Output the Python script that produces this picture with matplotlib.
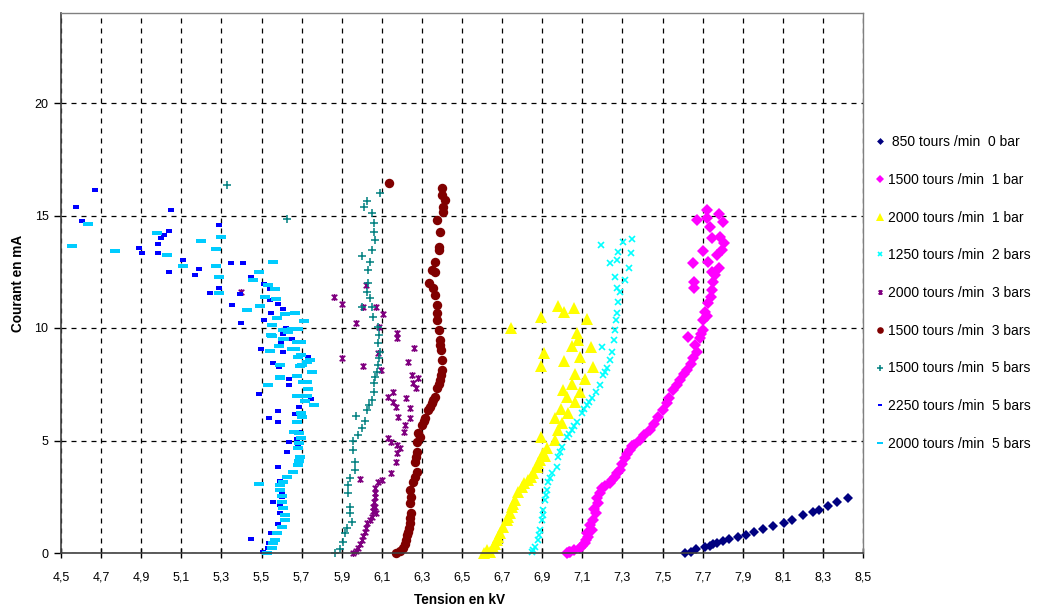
import numpy as np
import matplotlib
matplotlib.use("Agg")
import matplotlib.pyplot as plt
from matplotlib.path import Path

plt.rcParams['font.family'] = ['Liberation Sans', 'DejaVu Sans']

# ---------------- data ----------------
v_850_0 = [7.61, 7.64, 7.667, 7.71, 7.737, 7.753, 7.77, 7.80, 7.833, 7.875, 7.917, 7.956,
           8.003, 8.053, 8.106, 8.146, 8.202, 8.252, 8.282, 8.327, 8.372, 8.424]
i_850_0 = [0.0, 0.04, 0.16, 0.25, 0.33, 0.40, 0.46, 0.55, 0.61, 0.73, 0.81, 0.93,
           1.07, 1.21, 1.32, 1.48, 1.67, 1.84, 1.90, 2.09, 2.27, 2.46]

v_1500_1 = [7.022, 7.039, 7.089, 7.113, 7.13, 7.147, 7.155, 7.168, 7.18, 7.188, 7.197, 7.238,
            7.263, 7.288, 7.313, 7.338, 7.388, 7.438, 7.479, 7.521, 7.554, 7.587, 7.62, 7.654,
            7.67, 7.662, 7.629, 7.687, 7.704, 7.704, 7.712, 7.729, 7.74, 7.745, 7.659, 7.659,
            7.754, 7.762, 7.783, 7.745, 7.654, 7.729, 7.77, 7.795, 7.70, 7.807, 7.787, 7.745,
            7.737, 7.72, 7.67, 7.783, 7.803, 7.72,
            7.06, 7.10, 7.12, 7.14, 7.16, 7.25, 7.30, 7.36, 7.41, 7.50, 7.57, 7.64,
            7.035, 7.122, 7.175, 7.215, 7.275, 7.325, 7.35, 7.46, 7.53, 7.605, 7.69, 7.72]
i_1500_1 = [0.01, 0.06, 0.21, 0.43, 0.73, 1.02, 1.47, 1.76, 2.21, 2.65, 2.87, 3.10,
            3.39, 3.69, 4.21, 4.58, 5.02, 5.47, 6.06, 6.65, 7.24, 7.69, 8.13, 8.65,
            8.95, 9.24, 9.62, 9.54, 9.91, 10.36, 10.72, 11.10, 11.39, 11.69, 11.76, 12.06,
            12.06, 12.36, 12.65, 12.51, 12.87, 12.95, 13.24, 13.47, 13.44, 13.76, 14.06, 13.99,
            14.50, 14.87, 14.80, 15.07, 14.73, 15.24,
            0.12, 0.30, 0.60, 1.25, 1.95, 3.25, 3.95, 4.80, 5.25, 6.35, 7.45, 8.40,
            0.03, 0.88, 2.45, 3.00, 3.55, 4.40, 4.75, 5.75, 6.90, 7.95, 9.75, 10.55]

v_2000_1 = [6.61, 6.64, 6.656, 6.673, 6.69, 6.706, 6.723, 6.739, 6.748, 6.764, 6.781, 6.797,
            6.831, 6.856, 6.873, 6.889, 6.906, 6.923, 6.893, 6.964, 6.98, 6.997, 6.964, 7.03,
            6.992, 7.064, 7.022, 7.005, 7.089, 7.047, 7.114, 7.064, 7.155, 6.893, 7.009, 7.089,
            6.909, 7.142, 7.08, 7.05, 7.072, 6.743, 6.893, 7.122, 7.01, 7.06, 6.98,
            6.625, 6.665, 6.68, 6.73, 6.755, 6.81, 6.845, 6.88, 6.915]
i_2000_1 = [0.0, 0.06, 0.28, 0.58, 0.87, 1.17, 1.47, 1.76, 2.06, 2.36, 2.73, 2.95,
            3.24, 3.54, 3.84, 4.13, 4.43, 4.65, 5.17, 5.02, 5.47, 5.76, 5.99, 6.21,
            6.39, 6.72, 6.92, 7.24, 7.17, 7.50, 7.73, 7.96, 8.25, 8.32, 8.55, 8.73,
            8.87, 9.14, 9.47, 9.20, 9.76, 10.02, 10.50, 10.40, 10.72, 10.90, 10.98,
            0.15, 0.42, 0.72, 1.62, 2.20, 3.10, 3.40, 3.98, 4.30]

v_1250_2 = [6.847, 6.864, 6.881, 6.889, 6.898, 6.906, 6.914, 6.923, 6.931, 6.947, 6.972, 6.98,
            6.997, 7.022, 7.047, 7.072, 7.097, 7.122, 7.147, 7.168, 7.188, 7.205, 7.222, 7.238,
            7.247, 7.197, 7.258, 7.263, 7.268, 7.272, 7.28, 7.288, 7.272, 7.313, 7.263, 7.272,
            7.238, 7.334, 7.341, 7.28, 7.192, 7.301, 7.349,
            6.855, 6.886, 6.902, 6.918, 6.94, 6.99, 7.035, 7.06, 7.11, 7.135, 7.215]
i_1250_2 = [0.06, 0.28, 0.58, 1.02, 1.47, 1.91, 2.36, 2.80, 3.17, 3.54, 3.84, 4.28,
            4.72, 5.17, 5.47, 5.84, 6.21, 6.58, 6.87, 7.17, 7.47, 7.91, 8.21, 8.58,
            8.95, 9.17, 9.47, 9.91, 10.36, 10.65, 11.17, 11.61, 11.76, 12.13, 12.28, 13.02,
            12.87, 12.65, 13.35, 13.39, 13.69, 13.84, 13.94,
            0.15, 0.80, 1.70, 2.60, 3.35, 4.50, 5.30, 5.65, 6.40, 6.72, 8.05]

v_2000_3 = [5.958, 5.983, 6.0, 6.016, 6.028, 6.05, 6.058, 6.066, 6.066, 6.083, 6.10, 5.991,
            6.144, 6.171, 6.174, 6.174, 6.144, 6.191, 6.132, 6.211, 6.216, 6.24, 6.182, 6.24,
            6.171, 6.157, 6.221, 6.132, 6.157, 6.257, 6.271, 6.279, 6.096, 6.249, 6.008, 6.232,
            5.90, 6.083, 6.26, 6.177, 6.177, 6.088, 5.971, 6.108, 6.071, 6.008, 5.90, 6.021,
            5.862, 5.399,
            5.97, 5.99, 6.008, 6.022, 6.04, 6.055, 6.062, 6.066, 6.066, 6.07]
i_2000_3 = [0.01, 0.21, 0.58, 0.95, 1.32, 1.62, 2.06, 2.50, 2.87, 3.17, 3.24, 3.28,
            3.54, 4.06, 4.43, 4.80, 4.95, 4.65, 5.10, 5.39, 5.69, 5.99, 6.06, 6.43,
            6.50, 6.72, 6.87, 6.95, 7.17, 7.54, 7.32, 7.76, 8.13, 7.91, 8.31, 8.50,
            8.65, 8.90, 9.10, 9.54, 9.76, 10.03, 10.21, 10.62, 10.92, 10.95, 11.05, 11.91,
            11.36, 11.61,
            0.10, 0.40, 0.75, 1.12, 1.48, 1.85, 2.28, 2.68, 2.05, 1.80]

v_1500_3 = [6.171, 6.207, 6.221, 6.232, 6.24, 6.244, 6.24, 6.24, 6.257, 6.274, 6.265, 6.274,
            6.274, 6.282, 6.299, 6.315, 6.332, 6.349, 6.365, 6.377, 6.39, 6.399, 6.399, 6.394,
            6.39, 6.385, 6.377, 6.377, 6.377, 6.365, 6.357, 6.337, 6.365, 6.349, 6.365, 6.387,
            6.387, 6.39, 6.377, 6.404, 6.404, 6.415, 6.399, 6.399, 6.138,
            6.19, 6.215, 6.228, 6.238, 6.242, 6.248, 6.268, 6.27, 6.29, 6.308, 6.34, 6.357,
            6.384, 6.397, 6.392]
i_1500_3 = [0.01, 0.21, 0.58, 0.95, 1.32, 1.76, 2.21, 2.80, 3.17, 3.61, 4.06, 4.50,
            4.95, 5.32, 5.69, 5.99, 6.36, 6.65, 6.95, 7.32, 7.69, 8.13, 8.58, 9.02,
            9.47, 9.91, 10.36, 10.65, 11.02, 11.47, 11.76, 11.99, 12.50, 12.58, 12.95, 13.47,
            13.59, 14.28, 14.80, 15.17, 15.39, 15.69, 15.91, 16.21, 16.43,
            0.10, 0.40, 0.78, 1.12, 1.55, 2.50, 3.40, 4.28, 5.15, 5.85, 6.50, 6.80,
            7.50, 7.90, 9.25]

v_1500_5 = [5.867, 5.892, 5.905, 5.917, 5.925, 5.95, 5.941, 5.941, 5.933, 5.933, 5.941, 5.966,
            5.966, 5.958, 5.958, 5.983, 6.0, 5.971, 6.016, 6.025, 6.038, 6.05, 6.061, 6.061,
            6.066, 6.075, 6.083, 6.088, 6.091, 6.083, 6.088, 6.083, 6.058, 6.05, 6.0, 6.041,
            6.025, 6.033, 6.033, 6.041, 6.0, 6.05, 6.066, 6.061, 6.061, 6.05, 6.011, 6.028,
            6.091, 5.33, 5.626]
i_1500_5 = [0.0, 0.16, 0.50, 0.87, 1.10, 1.39, 1.76, 2.06, 2.65, 3.02, 3.32, 3.69,
            4.06, 4.58, 4.99, 5.24, 5.54, 6.09, 5.88, 6.36, 6.58, 6.80, 7.17, 7.54,
            7.84, 8.06, 8.36, 8.65, 8.95, 9.32, 9.69, 10.06, 10.50, 10.95, 10.92, 11.32,
            11.61, 11.99, 12.58, 12.95, 13.20, 13.47, 13.91, 14.28, 14.65, 15.10, 15.39, 15.66,
            15.99, 16.34, 14.86]

v_2250_5 = [4.668, 4.575, 4.605, 5.049, 5.288, 5.039, 4.997, 5.015, 4.985, 4.887, 4.906, 4.985,
            5.11, 5.037, 5.188, 5.17, 5.349, 5.408, 5.448, 5.287, 5.245, 5.393, 5.354, 5.396,
            5.514, 5.542, 5.541, 5.584, 5.609, 5.546, 5.511, 5.621, 5.609, 5.651, 5.597, 5.499,
            5.609, 5.557, 5.587, 5.73, 5.639, 5.639, 5.489, 5.73, 5.747, 5.687, 5.667, 5.581,
            5.539, 5.581, 5.689, 5.675, 5.639, 5.684, 5.626, 5.584, 5.592, 5.556, 5.592, 5.592,
            5.584, 5.546, 5.448, 5.539, 5.531, 5.509, 5.60, 5.60]
i_2250_5 = [16.12, 15.39, 14.77, 15.24, 14.56, 14.31, 14.01, 14.14, 13.73, 13.54, 13.32, 13.32,
            13.02, 12.51, 12.61, 12.36, 12.87, 12.87, 12.27, 11.79, 11.54, 11.50, 11.02, 10.21,
            11.97, 11.73, 11.23, 11.08, 10.86, 10.67, 10.36, 9.98, 9.73, 9.52, 9.32, 9.08,
            8.92, 8.44, 8.27, 8.70, 7.72, 7.47, 7.07, 7.30, 6.84, 6.50, 6.18, 6.32,
            5.99, 5.81, 5.39, 5.05, 4.92, 4.72, 4.47, 3.81, 3.20, 2.28, 2.13, 1.76,
            1.29, 0.90, 0.62, 0.43, 0.21, 0.06, 2.68, 2.50]

v_2000_5 = [4.556, 4.636, 4.769, 4.977, 5.027, 5.197, 5.30, 5.272, 5.11, 5.272, 5.29, 5.29,
            5.459, 5.489, 5.559, 5.426, 5.492, 5.531, 5.569, 5.519, 5.572, 5.667, 5.617, 5.711,
            5.554, 5.609, 5.651, 5.547, 5.612, 5.699, 5.589, 5.542, 5.667, 5.742, 5.592, 5.70,
            5.592, 5.675, 5.708, 5.73, 5.532, 5.675, 5.576, 5.633, 5.684, 5.551, 5.609, 5.651,
            5.675, 5.695, 5.68, 5.725, 5.692, 5.592, 5.75, 5.725, 5.763, 5.725, 5.717, 5.697,
            5.70, 5.675, 5.664, 5.689, 5.697, 5.687, 5.684, 5.692, 5.689, 5.684, 5.659, 5.629,
            5.606, 5.592, 5.592, 5.60, 5.60, 5.609, 5.617, 5.617, 5.60, 5.576, 5.567, 5.559,
            5.551, 5.526, 5.489]
i_2000_5 = [13.64, 14.62, 13.44, 14.21, 13.23, 13.85, 14.06, 13.50, 12.74, 12.74, 12.25, 11.54,
            12.13, 12.50, 12.92, 10.81, 10.98, 11.91, 11.75, 11.38, 11.27, 10.65, 10.62, 10.31,
            10.13, 9.91, 9.94, 9.69, 9.51, 9.36, 9.21, 8.99, 9.08, 8.58, 8.36, 8.36,
            7.84, 7.88, 7.61, 7.27, 7.47, 6.98, 10.46, 9.84, 9.94, 9.64, 9.49, 9.05,
            9.39, 8.80, 8.70, 8.50, 8.30, 7.76, 8.06, 7.61, 6.60, 6.98, 6.76, 6.24,
            6.06, 5.84, 5.39, 5.32, 5.10, 4.90, 4.65, 4.28, 4.10, 3.91, 3.61, 3.39,
            3.17, 3.02, 2.80, 2.53, 2.28, 1.98, 1.69, 1.47, 1.17, 0.90, 0.58, 0.43,
            0.21, 0.01, 3.05]

labels = [" 850 tours /min  0 bar", "1500 tours /min  1 bar", "2000 tours /min  1 bar",
          "1250 tours /min  2 bars", "2000 tours /min  3 bars", "1500 tours /min  3 bars",
          "1500 tours /min  5 bars", "2250 tours /min  5 bars", "2000 tours /min  5 bars"]

x_ticks = [4.5, 4.7, 4.9, 5.1, 5.3, 5.5, 5.7, 5.9, 6.1, 6.3, 6.5, 6.7, 6.9,
           7.1, 7.3, 7.5, 7.7, 7.9, 8.1, 8.3, 8.5]
y_ticks = [0, 5, 10, 15, 20]

# ---------------- markers ----------------
star = Path([(-1, -1), (1, 1), (-1, 1), (1, -1), (0, -1.25), (0, 1.25)],
            [Path.MOVETO, Path.LINETO, Path.MOVETO, Path.LINETO, Path.MOVETO, Path.LINETO])
def rect(h):
    return Path([(-1, -h), (1, -h), (1, h), (-1, h), (-1, -h)],
                [Path.MOVETO, Path.LINETO, Path.LINETO, Path.LINETO, Path.CLOSEPOLY])
dash_short = rect(0.55)
dash_long = rect(0.32)

W, H = 1042, 606
fig = plt.figure(figsize=(W / 100, H / 100), dpi=100)
ax = fig.add_axes([61 / W, 1 - 553 / H, (863 - 61) / W, (553 - 13) / H])

series = [
    (v_850_0, i_850_0, dict(marker='D', color='#000080', ms=5.0, mew=0)),
    (v_1500_1, i_1500_1, dict(marker='D', color='#FF00FF', ms=6.3, mew=0)),
    (v_2000_1, i_2000_1, dict(marker='^', color='#FFFF00', ms=8.0, mew=0)),
    (v_1250_2, i_1250_2, dict(marker='x', color='#00FFFF', ms=5.0, mew=1.2)),
    (v_2000_3, i_2000_3, dict(marker=star, color='#800080', ms=5.0, mew=1.2)),
    (v_1500_3, i_1500_3, dict(marker='o', color='#800000', ms=6.8, mew=0)),
    (v_1500_5, i_1500_5, dict(marker='+', color='#008080', ms=5.5, mew=1.1)),
    (v_2250_5, i_2250_5, dict(marker=dash_short, color='#0000FF', ms=4.0, mew=0)),
    (v_2000_5, i_2000_5, dict(marker=dash_long, color='#00CCFF', ms=7.0, mew=0)),
]
handles = []
for (xs, ys, st), lab in zip(series, labels):
    h, = ax.plot(xs, ys, linestyle='none', label=lab, clip_on=False, **st)
    handles.append(h)

ax.set_xlim(4.5, 8.5)
ax.set_ylim(0, 24)
ax.set_xticks(x_ticks)
ax.set_xticklabels([f"{v:.1f}".replace('.', ',') for v in x_ticks])
ax.set_yticks(y_ticks)
ax.tick_params(axis='x', direction='inout', length=7, width=1, labelsize=9, pad=10, colors='black')
ax.tick_params(axis='y', direction='out', length=5, width=1, labelsize=9, pad=4, colors='black')
ax.grid(True, color='black', linestyle=(0, (4, 4)), linewidth=0.9)
ax.set_axisbelow(True)
for s in ['top', 'right']:
    ax.spines[s].set_color('#808080')
    ax.spines[s].set_linewidth(1.0)
for s in ['left', 'bottom']:
    ax.spines[s].set_color('#404040')
    ax.spines[s].set_linewidth(1.2)

fig.text(460 / W, 1 - 600 / H, "Tension en kV", ha='center', va='center',
         fontsize=9.8, fontweight='bold')
fig.text(18 / W, 1 - 283 / H, "Courant en mA", ha='center', va='center',
         fontsize=9.8, fontweight='bold', rotation=90)

leg = fig.legend(handles=handles, labels=labels, loc='upper left',
                 bbox_to_anchor=(874 / W, 1 - 135 / H), bbox_transform=fig.transFigure,
                 frameon=False, fontsize=10, borderpad=0, borderaxespad=0,
                 handlelength=0.85, handletextpad=0.15, labelspacing=1.71,
                 markerscale=0.7, numpoints=1)

fig.savefig("out.png", dpi=100)
